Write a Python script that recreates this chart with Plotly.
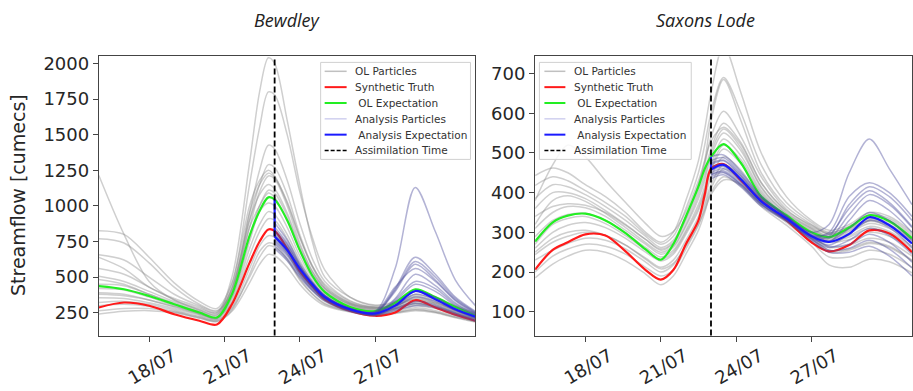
import plotly.graph_objects as go

W, H = 913, 391

# ---------------- Bewdley ----------------
bew_t = [16, 17, 18, 19, 20, 20.7, 21.3, 22, 22.4, 22.75, 23, 23.5, 24, 24.5, 25, 26, 27, 27.8, 28.6, 29.4, 30.2, 31]
bew_ta = [23, 23.5, 24, 24.5, 25, 26, 27, 27.8, 28.6, 29.4, 30.2, 31]

bew_truth = [287, 322, 299, 240, 194, 168, 310, 600, 750, 835, 825, 700, 542, 437, 345, 264, 229, 252, 338, 287, 236, 194]
bew_ol_mean = [437, 415, 368, 310, 252, 217, 380, 790, 965, 1060, 1045, 900, 690, 510, 395, 290, 262, 320, 415, 360, 290, 229]
bew_an_mean = [785, 690, 560, 450, 360, 275, 245, 300, 403, 345, 275, 222]

bew_ol_particles = [
    [1213, 800, 470, 340, 280, 250, 420, 900, 1080, 1150, 1120, 950, 720, 540, 420, 310, 275, 300, 360, 320, 270, 230],
    [826, 800, 640, 460, 330, 280, 460, 1000, 1180, 1250, 1210, 1020, 780, 580, 450, 330, 290, 310, 380, 340, 285, 240],
    [769, 740, 600, 430, 310, 265, 390, 850, 1000, 1090, 1060, 900, 690, 520, 410, 310, 280, 300, 350, 320, 270, 230],
    [658, 620, 500, 380, 300, 260, 450, 1150, 1550, 1800, 1780, 1500, 1100, 780, 550, 360, 300, 320, 400, 350, 290, 245],
    [639, 560, 430, 350, 290, 250, 500, 1300, 1800, 2040, 2000, 1600, 1150, 750, 500, 360, 305, 330, 410, 360, 300, 250],
    [507, 470, 400, 330, 270, 240, 420, 900, 1150, 1290, 1270, 1080, 800, 580, 440, 320, 285, 300, 340, 310, 260, 220],
    [484, 450, 380, 320, 260, 230, 400, 850, 1100, 1210, 1190, 1000, 740, 540, 420, 315, 280, 290, 330, 300, 255, 215],
    [391, 380, 340, 290, 240, 215, 330, 700, 870, 960, 940, 800, 620, 470, 370, 290, 260, 280, 310, 290, 245, 210],
    [356, 350, 320, 280, 235, 205, 320, 650, 820, 910, 900, 770, 590, 450, 360, 285, 255, 270, 300, 280, 240, 205],
    [322, 330, 310, 270, 225, 200, 290, 560, 720, 790, 780, 670, 520, 410, 330, 270, 245, 260, 285, 265, 230, 195],
    [300, 310, 295, 260, 220, 195, 280, 500, 640, 720, 710, 620, 480, 380, 310, 260, 240, 250, 275, 255, 220, 190],
    [264, 280, 280, 255, 215, 190, 260, 460, 590, 660, 650, 570, 450, 360, 300, 255, 235, 245, 265, 250, 215, 185],
    [241, 260, 265, 250, 212, 188, 270, 520, 680, 740, 730, 630, 490, 385, 315, 262, 240, 252, 272, 255, 220, 188],
    [450, 440, 380, 310, 255, 220, 360, 780, 1000, 1110, 1090, 930, 700, 520, 400, 305, 270, 285, 320, 295, 250, 210],
    [560, 520, 430, 340, 270, 235, 420, 950, 1150, 1230, 1200, 1030, 780, 570, 430, 320, 285, 300, 345, 315, 265, 225],
    [420, 410, 360, 300, 245, 212, 350, 750, 960, 1020, 1000, 850, 650, 490, 385, 298, 265, 280, 315, 290, 245, 208],
    [380, 370, 340, 295, 245, 210, 380, 950, 1250, 1426, 1400, 1180, 880, 630, 470, 335, 290, 305, 370, 330, 275, 230],
]

bew_an_particles = [
    [830, 730, 580, 460, 370, 280, 260, 560, 1130, 820, 480, 300],
    [800, 700, 560, 445, 360, 275, 250, 420, 640, 520, 360, 260],
    [780, 690, 550, 440, 355, 272, 248, 410, 610, 500, 350, 255],
    [760, 670, 535, 430, 350, 270, 245, 400, 590, 480, 340, 250],
    [820, 720, 575, 455, 365, 278, 255, 430, 560, 470, 335, 245],
    [740, 650, 520, 420, 345, 268, 240, 340, 470, 420, 310, 235],
    [790, 700, 560, 445, 360, 275, 245, 330, 450, 400, 300, 230],
    [850, 740, 585, 460, 368, 278, 248, 310, 400, 360, 280, 220],
    [720, 630, 510, 410, 338, 262, 235, 290, 360, 330, 265, 210],
    [770, 680, 545, 435, 352, 270, 238, 280, 330, 305, 250, 200],
    [700, 615, 500, 405, 333, 258, 230, 265, 300, 285, 235, 190],
    [810, 710, 565, 450, 362, 274, 240, 275, 315, 295, 245, 195],
    [750, 660, 530, 425, 348, 266, 236, 300, 380, 345, 270, 215],
    [880, 760, 600, 470, 372, 280, 250, 350, 520, 440, 320, 240],
]

# ---------------- Saxons Lode ----------------
sax_t = [16, 16.7, 17.3, 18, 18.8, 19.6, 20.4, 21, 21.5, 22, 22.5, 22.75, 23, 23.5, 24.2, 25, 26, 27, 27.7, 28.5, 29.3, 30.1, 31]
sax_ta = [23, 23.5, 24.2, 25, 26, 27, 27.7, 28.5, 29.3, 30.1, 31]

sax_truth = [206, 256, 275, 295, 292, 252, 205, 181, 205, 270, 330, 395, 460, 472, 430, 380, 331, 275, 252, 268, 305, 297, 250]
sax_ol_mean = [277, 325, 342, 347, 330, 298, 257, 231, 270, 340, 415, 460, 490, 522, 474, 390, 343, 300, 288, 312, 343, 328, 285]
sax_an_mean = [458, 470, 433, 378, 335, 290, 276, 296, 338, 318, 272]

sax_ol_particles = [
    [443, 462, 450, 420, 390, 350, 300, 275, 300, 380, 480, 560, 650, 770, 650, 500, 390, 330, 305, 320, 350, 340, 300],
    [418, 440, 430, 405, 375, 340, 295, 270, 290, 360, 450, 520, 600, 690, 600, 470, 375, 325, 300, 315, 345, 335, 295],
    [385, 420, 415, 395, 365, 330, 290, 262, 280, 340, 420, 470, 540, 605, 540, 440, 358, 315, 295, 310, 335, 325, 285],
    [360, 400, 400, 385, 355, 320, 282, 255, 272, 330, 405, 450, 510, 575, 525, 425, 352, 312, 290, 305, 330, 318, 280],
    [310, 350, 365, 362, 340, 305, 270, 245, 262, 315, 385, 430, 490, 550, 505, 412, 346, 308, 285, 298, 322, 310, 272],
    [289, 330, 345, 348, 330, 298, 262, 238, 255, 305, 370, 415, 470, 535, 492, 405, 342, 305, 282, 292, 315, 302, 265],
    [260, 300, 318, 325, 312, 285, 250, 228, 245, 295, 355, 400, 455, 510, 472, 396, 338, 300, 275, 282, 300, 290, 255],
    [244, 275, 290, 300, 292, 268, 235, 212, 230, 280, 340, 385, 440, 490, 456, 386, 332, 292, 262, 268, 285, 275, 240],
    [185, 220, 240, 255, 250, 228, 195, 168, 190, 245, 305, 350, 400, 440, 416, 365, 318, 265, 218, 212, 232, 226, 198],
    [380, 470, 520, 490, 430, 375, 322, 290, 302, 352, 430, 480, 530, 565, 520, 425, 355, 318, 298, 315, 340, 330, 290],
    [320, 380, 392, 378, 348, 312, 274, 250, 266, 320, 395, 440, 500, 560, 512, 415, 348, 310, 288, 302, 328, 315, 278],
    [230, 255, 272, 285, 280, 258, 225, 200, 218, 270, 330, 372, 420, 470, 442, 378, 328, 285, 250, 255, 272, 262, 228],
    [270, 320, 335, 340, 322, 292, 256, 232, 250, 300, 362, 405, 460, 520, 482, 400, 340, 302, 278, 288, 310, 298, 260],
    [200, 240, 258, 270, 265, 245, 212, 190, 205, 258, 318, 362, 410, 460, 432, 372, 325, 275, 238, 238, 255, 245, 212],
    [340, 365, 372, 368, 350, 318, 282, 258, 275, 335, 420, 480, 580, 685, 580, 450, 365, 320, 295, 308, 332, 320, 282],
    [250, 285, 300, 305, 292, 268, 232, 208, 222, 265, 320, 355, 395, 432, 420, 372, 330, 290, 255, 258, 275, 265, 230],
]

sax_an_particles = [
    [470, 480, 440, 385, 340, 300, 320, 450, 535, 460, 370],
    [455, 465, 430, 378, 335, 292, 300, 390, 425, 400, 340],
    [445, 455, 422, 372, 332, 290, 290, 370, 415, 390, 330],
    [480, 488, 448, 388, 340, 296, 295, 360, 405, 375, 315],
    [440, 450, 418, 370, 330, 285, 275, 330, 380, 355, 300],
    [465, 472, 436, 382, 338, 292, 278, 310, 350, 330, 280],
    [450, 460, 426, 375, 333, 286, 268, 295, 330, 312, 262],
    [435, 445, 414, 366, 328, 282, 262, 280, 310, 292, 245],
    [475, 482, 444, 386, 339, 290, 265, 270, 295, 275, 225],
    [460, 468, 432, 378, 334, 284, 255, 260, 280, 258, 210],
    [445, 452, 420, 370, 330, 280, 250, 250, 265, 240, 190],
    [490, 495, 452, 392, 342, 294, 285, 345, 395, 370, 312],
]

assim_day = 23.0
tick_days = [18, 21, 24, 27]
tick_labels = ["18/07", "21/07", "24/07", "27/07"]
bew_yticks = [250, 500, 750, 1000, 1250, 1500, 1750, 2000]
sax_yticks = [100, 200, 300, 400, 500, 600, 700]

legend_labels = ["OL Particles", "Synthetic Truth", "\u00a0OL Expectation",
                 "Analysis Particles", "\u00a0Analysis Expectation", "Assimilation Time"]

# styling
C_OL = "rgba(135,135,135,0.40)"
C_AN = "rgba(75,75,155,0.42)"
C_TRUTH = "#ff1a1a"
C_OLM = "#22ee22"
C_ANM = "#1a1aff"
TICK_FONT = dict(family="DejaVu Sans", size=18, color="#262626")


def px_x(p):
    return p / W


def px_y(p):
    return (H - p) / H


fig = go.Figure()


def add_panel(xa, ya, t, ta, ol_parts, an_parts, truth, ol_mean, an_mean):
    for p in ol_parts:
        fig.add_trace(go.Scatter(x=t, y=p, mode="lines", xaxis=xa, yaxis=ya,
                                 line=dict(color=C_OL, width=1.5, shape="spline", smoothing=0.9),
                                 showlegend=False, hoverinfo="skip"))
    fig.add_trace(go.Scatter(x=t, y=truth, mode="lines", xaxis=xa, yaxis=ya,
                             line=dict(color=C_TRUTH, width=2.2, shape="spline", smoothing=0.9),
                             showlegend=False))
    fig.add_trace(go.Scatter(x=t, y=ol_mean, mode="lines", xaxis=xa, yaxis=ya,
                             line=dict(color=C_OLM, width=2.2, shape="spline", smoothing=0.9),
                             showlegend=False))
    for p in an_parts:
        fig.add_trace(go.Scatter(x=ta, y=p, mode="lines", xaxis=xa, yaxis=ya,
                                 line=dict(color=C_AN, width=1.5, shape="spline", smoothing=0.9),
                                 showlegend=False, hoverinfo="skip"))
    # jump of the analysis expectation at the assimilation time
    k = t.index(assim_day)
    fig.add_trace(go.Scatter(x=[assim_day, ta[0]], y=[ol_mean[k], an_mean[0]], mode="lines",
                             xaxis=xa, yaxis=ya, line=dict(color=C_ANM, width=2.2),
                             showlegend=False))
    fig.add_trace(go.Scatter(x=ta, y=an_mean, mode="lines", xaxis=xa, yaxis=ya,
                             line=dict(color=C_ANM, width=2.2, shape="spline", smoothing=0.9),
                             showlegend=False))


add_panel("x", "y", bew_t, bew_ta, bew_ol_particles, bew_an_particles,
          bew_truth, bew_ol_mean, bew_an_mean)
add_panel("x2", "y2", sax_t, sax_ta, sax_ol_particles, sax_an_particles,
          sax_truth, sax_ol_mean, sax_an_mean)

y_dom = [px_y(335), px_y(53)]
axis_common = dict(showgrid=False, zeroline=False, showline=True, linecolor="#444",
                   linewidth=1.2, mirror=True, ticks="outside", ticklen=5,
                   tickcolor="#444", tickwidth=1.2, tickfont=TICK_FONT)
x_common = dict(range=[16, 31], tickvals=tick_days, ticktext=tick_labels, tickangle=-30,
                ticklabelshift=24, ticklabelstandoff=-3)

fig.update_layout(
    width=W, height=H, margin=dict(l=0, r=0, t=0, b=0),
    paper_bgcolor="white", plot_bgcolor="white", showlegend=False,
    xaxis=dict(domain=[px_x(99), px_x(476)], anchor="y", **x_common, **axis_common),
    yaxis=dict(domain=y_dom, range=[90, 2049], tickvals=bew_yticks, anchor="x", **axis_common),
    xaxis2=dict(domain=[px_x(535.7), 1.0], anchor="y2", **x_common, **axis_common),
    yaxis2=dict(domain=y_dom, range=[40, 743], tickvals=sax_yticks, anchor="x2", **axis_common),
)

shapes = []
annotations = []

# assimilation time markers
for xr, yr in (("x", "y domain"), ("x2", "y2 domain")):
    shapes.append(dict(type="line", xref=xr, yref=yr, x0=assim_day, x1=assim_day, y0=0, y1=1,
                       line=dict(color="black", width=1.8, dash="6px,3px"), layer="above"))


def add_legend(box_x0, box_x1, sample_x0, sample_x1, text_x):
    box_y0, box_y1 = 59, 157
    shapes.append(dict(type="rect", xref="paper", yref="paper",
                       x0=px_x(box_x0), x1=px_x(box_x1), y0=px_y(box_y1), y1=px_y(box_y0),
                       fillcolor="rgba(255,255,255,0.85)", line=dict(color="#d0d0d0", width=1),
                       layer="above"))
    styles = [dict(color="rgba(150,150,150,0.6)", width=1.5),
              dict(color=C_TRUTH, width=2),
              dict(color=C_OLM, width=2),
              dict(color="rgba(120,120,210,0.35)", width=1.5),
              dict(color=C_ANM, width=2),
              dict(color="black", width=1.5, dash="4px,2px")]
    for i, (lab, st) in enumerate(zip(legend_labels, styles)):
        yc = 68 + 16 * i
        shapes.append(dict(type="line", xref="paper", yref="paper",
                           x0=px_x(sample_x0), x1=px_x(sample_x1), y0=px_y(yc), y1=px_y(yc),
                           line=st, layer="above"))
        annotations.append(dict(text=lab, xref="paper", yref="paper", x=px_x(text_x), y=px_y(yc),
                                xanchor="left", yanchor="middle", showarrow=False,
                                font=dict(family="DejaVu Sans", size=10.5, color="#333")))


add_legend(321, 471, 325, 347, 353)
add_legend(540, 692, 545, 566, 573)

# panel titles and y label
annotations.append(dict(text="<i>Bewdley</i>", xref="paper", yref="paper", x=px_x(288), y=px_y(16),
                        xanchor="center", yanchor="middle", showarrow=False,
                        font=dict(family="Open Sans", size=18, color="#222")))
annotations.append(dict(text="<i>Saxons Lode</i>", xref="paper", yref="paper", x=px_x(706), y=px_y(16),
                        xanchor="center", yanchor="middle", showarrow=False,
                        font=dict(family="Open Sans", size=18, color="#222")))
annotations.append(dict(text="Streamflow [cumecs]", xref="paper", yref="paper", x=px_x(18), y=px_y(193),
                        xanchor="center", yanchor="middle", textangle=-90, showarrow=False,
                        font=dict(family="DejaVu Sans", size=19, color="#262626")))

fig.update_layout(shapes=shapes, annotations=annotations)
fig.write_html("out.html")
